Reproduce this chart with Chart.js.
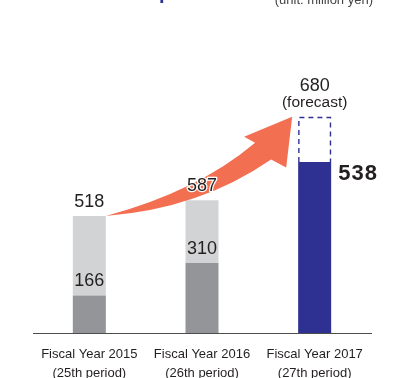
<!DOCTYPE html>
<html lang="en">
<head>
  <meta charset="UTF-8">
  <title>Sales</title>
  <script src="https://cdn.jsdelivr.net/npm/chart.js"></script>
  <style>
    html, body { margin: 0; padding: 0; background: #fff; }
    #wrap { width: 402px; height: 378px; }
  </style>
</head>
<body>
  <div id="wrap"><canvas id="salesChart" width="402" height="378"></canvas></div>

  <script>
    // values (million yen)
    const categories = [
      ['Fiscal Year 2015', '(25th period)'],
      ['Fiscal Year 2016', '(26th period)'],
      ['Fiscal Year 2017', '(27th period)']
    ];
    const baseValues = [166, 310, null];
    const totalValues = [518, 587, null];
    const actualValues = [null, null, 538];
    const forecastValues = [null, null, 680];

    const NAVY = '#2e3192';
    const TEXT = '#231f20';
    const FONT = '"Liberation Sans", Arial, Helvetica, sans-serif';

    const restValues = totalValues.map((v, i) => v == null ? null : v - baseValues[i]);
    const forecastRest = forecastValues.map((v, i) => v == null ? null : v - actualValues[i]);

    function drawArrow(ctx, t, p) {
      const dx = p.x - t.x, dy = p.y - t.y;
      const at = (u, v) => [t.x + dx * u, t.y + dy * v];
      ctx.save();
      ctx.fillStyle = '#f26f52';
      ctx.beginPath();
      ctx.moveTo(t.x, t.y);
      ctx.quadraticCurveTo(...at(0.492, 0.248), ...at(0.801, 0.739));
      ctx.lineTo(...at(0.742, 0.80));
      ctx.lineTo(p.x, p.y);
      ctx.lineTo(...at(0.968, 0.488));
      ctx.lineTo(...at(0.887, 0.569));
      ctx.quadraticCurveTo(...at(0.503, 0.071), t.x, t.y);
      ctx.closePath();
      ctx.fill();
      ctx.restore();
    }

    function text(ctx, str, x, y, font, align, outline) {
      ctx.font = font;
      ctx.textAlign = align || 'center';
      ctx.textBaseline = 'middle';
      if (outline) {
        ctx.lineWidth = 2.5;
        ctx.strokeStyle = '#fff';
        ctx.lineJoin = 'round';
        ctx.strokeText(str, x, y);
      }
      ctx.fillStyle = TEXT;
      ctx.fillText(str, x, y);
    }

    const decorPlugin = {
      id: 'decor',
      afterDatasetsDraw(chart) {
        const ctx = chart.ctx;
        const dark = chart.getDatasetMeta(0).data;
        const light = chart.getDatasetMeta(1).data;
        const solid = chart.getDatasetMeta(2).data;
        const fc = chart.getDatasetMeta(3).data;

        // dashed forecast outline
        const f = fc[2];
        const l = f.x - f.width / 2 + 0.7, r = f.x + f.width / 2 - 0.7;
        ctx.save();
        ctx.strokeStyle = NAVY;
        ctx.lineWidth = 1.4;
        ctx.setLineDash([5, 4]);
        ctx.beginPath();
        ctx.moveTo(l, f.base);
        ctx.lineTo(l, f.y + 0.7);
        ctx.lineTo(r, f.y + 0.7);
        ctx.lineTo(r, f.base);
        ctx.stroke();
        ctx.restore();

        // growth arrow
        drawArrow(ctx,
          { x: light[0].x + light[0].width / 2, y: light[0].y },
          { x: f.x - f.width / 2 - 6, y: f.y });

        ctx.save();
        for (let i = 0; i < 2; i++) {
          text(ctx, String(totalValues[i]), light[i].x, light[i].y - 14, '18px ' + FONT, 'center', i === 1);
          text(ctx, String(baseValues[i]), dark[i].x, dark[i].y - 14, '18px ' + FONT);
        }
        text(ctx, String(forecastValues[2]), f.x, f.y - 31, '18px ' + FONT);
        text(ctx, '(forecast)', f.x, f.y - 14, '15.5px ' + FONT);
        ctx.letterSpacing = '1px';
        text(ctx, String(actualValues[2]), solid[2].x + solid[2].width / 2 + 7, solid[2].y + 12, 'bold 22px ' + FONT, 'left');
        ctx.letterSpacing = '0px';

        // header bits cut by the frame
        ctx.font = '13px ' + FONT;
        ctx.textAlign = 'right';
        ctx.textBaseline = 'alphabetic';
        ctx.fillStyle = '#444';
        ctx.fillText('(unit: million yen)', 373, 4);
        ctx.font = 'bold 20px ' + FONT;
        ctx.textAlign = 'left';
        ctx.fillStyle = NAVY;
        ctx.fillText('p', 159, -1);
        ctx.restore();
      }
    };

    new Chart(document.getElementById('salesChart'), {
      type: 'bar',
      data: {
        labels: categories,
        datasets: [
          { data: baseValues, backgroundColor: '#939598', yAxisID: 'y', stack: 's' },
          { data: restValues, backgroundColor: '#d1d3d4', yAxisID: 'y', stack: 's' },
          { data: actualValues, backgroundColor: NAVY, yAxisID: 'y2', stack: 's' },
          { data: forecastRest, backgroundColor: 'rgba(255,255,255,0)', yAxisID: 'y2', stack: 's' }
        ]
      },
      options: {
        responsive: false,
        animation: false,
        devicePixelRatio: 1,
        categoryPercentage: 1,
        barPercentage: 0.293,
        layout: { padding: { left: 33, right: 31, top: 107, bottom: 0 } },
        plugins: { legend: { display: false }, tooltip: { enabled: false } },
        scales: {
          x: {
            stacked: true,
            grid: { display: false },
            border: { display: true, color: '#4d4d4d', width: 1 },
            ticks: {
              color: TEXT,
              padding: 4,
              maxRotation: 0,
              font: { family: FONT, size: 13, lineHeight: '18.7px' }
            },
            afterFit(scale) { scale.height = 45; }
          },
          y: { stacked: true, display: false, min: 0, max: 1000 },
          y2: { stacked: true, display: false, min: 0, max: 711 }
        }
      },
      plugins: [decorPlugin]
    });
  </script>
</body>
</html>
